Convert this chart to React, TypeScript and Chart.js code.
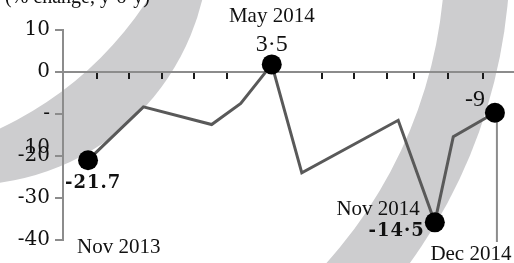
import React, { useEffect, useRef } from 'react';
import { Chart, registerables } from 'chart.js';

Chart.register(...registerables);

// ---- data ----
const pointNames = ['Nov 2013', '', '', '', 'May 2014', '', '', 'Nov 2014', '', 'Dec 2014'];
const monthPos = [0, 1.77, 3.95, 4.88, 5.87, 6.83, 9.91, 11.08, 11.67, 13];
const changeValues = [-21.0, -8.3, -12.5, -7.5, 1.8, -24.0, -11.5, -35.8, -15.4, -9.7];
const valueLabels = ['-21.7', '', '', '', '3·5', '', '', '-14·5', '', '-9'];
const markedIdx = [0, 4, 7, 9];
const xTickPositions = [0.29, 1.31, 2.36, 3.38, 4.44, 7.47, 8.5, 9.55, 10.41, 11.5, 12.62];
const yTicks = [10, 0, -10, -20, -30, -40];
const yTickLabels = ['10', '0', '-', '-20', '-30', '-40'];
const strayTickLabel = '10';
const unitTitle = '(% change, y-o-y)';

const W = 514;
const H = 263;
const BAND = '#cdcdcf';

function drawBand(ctx: CanvasRenderingContext2D, outer: number[], inner: number[]) {
  ctx.save();
  ctx.beginPath();
  ctx.arc(outer[0], outer[1], outer[2], 0, Math.PI * 2);
  ctx.clip();
  ctx.beginPath();
  ctx.rect(0, 0, W, H);
  ctx.arc(inner[0], inner[1], inner[2], 0, Math.PI * 2);
  ctx.fillStyle = BAND;
  ctx.fill('evenodd');
  ctx.restore();
}

function spacedText(ctx: CanvasRenderingContext2D, text: string, x: number, y: number, spacing: string) {
  const c: any = ctx;
  const prev = c.letterSpacing;
  c.letterSpacing = spacing;
  ctx.fillText(text, x, y);
  c.letterSpacing = prev || '0px';
}

const decorPlugin = {
  id: 'decor',
  beforeDraw(chart: any) {
    const ctx: CanvasRenderingContext2D = chart.ctx;
    ctx.save();
    ctx.fillStyle = '#ffffff';
    ctx.fillRect(0, 0, W, H);
    drawBand(ctx, [-33, -57, 242], [-151, -194, 356]);
    drawBand(ctx, [-17, -46, 527], [-17, -46, 462]);
    // clipped unit title
    ctx.fillStyle = '#111';
    ctx.font = '20px "Liberation Serif"';
    ctx.textAlign = 'left';
    ctx.textBaseline = 'alphabetic';
    ctx.fillText(unitTitle, 5, 3);
    ctx.restore();
  },
  afterDraw(chart: any) {
    const ctx: CanvasRenderingContext2D = chart.ctx;
    const ys = chart.scales.y;
    ctx.save();
    ctx.fillStyle = '#111';
    ctx.font = '20px "DejaVu Serif"';
    ctx.textAlign = 'right';
    ctx.textBaseline = 'middle';
    ctx.fillText(strayTickLabel, chart.chartArea.left - 13, ys.getPixelForValue(-20) - 8);
    ctx.restore();
  },
  beforeDatasetsDraw(chart: any) {
    const ctx: CanvasRenderingContext2D = chart.ctx;
    const meta = chart.getDatasetMeta(0);
    const ys = chart.scales.y;
    const last = meta.data[monthPos.length - 1];
    ctx.save();
    ctx.strokeStyle = '#8c8c8c';
    ctx.lineWidth = 2;
    ctx.beginPath();
    ctx.moveTo(last.x + 2, last.y);
    ctx.lineTo(last.x + 2, ys.getPixelForValue(-40) + 2);
    ctx.stroke();
    ctx.restore();
  },
  afterDatasetsDraw(chart: any) {
    const ctx: CanvasRenderingContext2D = chart.ctx;
    const meta = chart.getDatasetMeta(0);
    const ys = chart.scales.y;
    const bottom = ys.getPixelForValue(-40);
    const nameFont = '21px "Liberation Serif"';
    const bigVal = '24px "Liberation Serif"';
    const boldVal = 'bold 18px "DejaVu Serif"';
    ctx.save();
    ctx.fillStyle = '#111';
    ctx.textBaseline = 'alphabetic';
    const p0 = meta.data[0];
    const p4 = meta.data[4];
    const p7 = meta.data[7];
    const p9 = meta.data[9];
    // Nov 2013
    ctx.font = nameFont; ctx.textAlign = 'left';
    ctx.fillText(pointNames[0], p0.x - 11, bottom + 13);
    ctx.font = boldVal;
    spacedText(ctx, valueLabels[0], p0.x - 23, p0.y + 28, '1px');
    // May 2014
    ctx.font = nameFont; ctx.textAlign = 'center';
    ctx.fillText(pointNames[4], p4.x, p4.y - 42);
    ctx.font = bigVal;
    ctx.fillText(valueLabels[4], p4.x, p4.y - 13);
    // Nov 2014
    ctx.font = nameFont; ctx.textAlign = 'right';
    ctx.fillText(pointNames[7], p7.x - 15, p7.y - 7);
    ctx.font = boldVal;
    spacedText(ctx, valueLabels[7], p7.x - 10, p7.y + 14, '1px');
    // Dec 2014
    ctx.font = bigVal; ctx.textAlign = 'right';
    ctx.fillText(valueLabels[9], p9.x - 10, p9.y - 7);
    ctx.font = nameFont; ctx.textAlign = 'center';
    ctx.fillText(pointNames[9], p9.x - 24, bottom + 20);
    ctx.restore();
  },
};

export default function App() {
  const ref = useRef<HTMLCanvasElement | null>(null);
  useEffect(() => {
    if (!ref.current) return;
    const chart = new Chart(ref.current, {
      type: 'line',
      data: {
        datasets: [
          {
            data: monthPos.map((x, i) => ({ x, y: changeValues[i] })),
            borderColor: '#595959',
            borderWidth: 3,
            tension: 0,
            pointRadius: monthPos.map((_, i) => (markedIdx.includes(i) ? 10 : 0)),
            pointHoverRadius: monthPos.map((_, i) => (markedIdx.includes(i) ? 10 : 0)),
            pointBackgroundColor: '#000',
            pointBorderColor: '#000',
            pointBorderWidth: 0,
            clip: false as any,
          },
        ],
      },
      options: {
        responsive: false,
        animation: false,
        devicePixelRatio: 1,
        events: [],
        layout: { autoPadding: false, padding: { top: 30, bottom: 23, left: 0, right: 0 } },
        plugins: { legend: { display: false }, tooltip: { enabled: false }, title: { display: false } },
        scales: {
          x: {
            type: 'linear',
            position: { y: 0 } as any,
            min: -0.8,
            max: 13.61,
            afterBuildTicks: (s: any) => {
              s.ticks = xTickPositions.map((v) => ({ value: v }));
            },
            ticks: { display: false },
            grid: { drawOnChartArea: false, color: '#1a1a1a', lineWidth: 2, tickLength: 6 },
            border: { color: '#8c8c8c', width: 2 },
          },
          y: {
            type: 'linear',
            min: -40,
            max: 10,
            afterBuildTicks: (s: any) => {
              s.ticks = yTicks.map((v) => ({ value: v }));
            },
            afterFit: (s: any) => {
              s.width = 63;
            },
            ticks: {
              callback: (v: any) => {
                const i = yTicks.indexOf(Number(v));
                return i >= 0 ? yTickLabels[i] : '';
              },
              font: { family: 'DejaVu Serif', size: 20 },
              color: '#111',
              padding: 5,
            },
            grid: { drawOnChartArea: false, color: '#8c8c8c', lineWidth: 2, tickLength: 8 },
            border: { color: '#8c8c8c', width: 2 },
          },
        },
      },
      plugins: [decorPlugin as any],
    });
    return () => chart.destroy();
  }, []);
  return (
    <div style={{ position: 'absolute', left: 0, top: 0, width: W, height: H }}>
      <canvas ref={ref} width={W} height={H} style={{ display: 'block', width: W, height: H }} />
    </div>
  );
}
